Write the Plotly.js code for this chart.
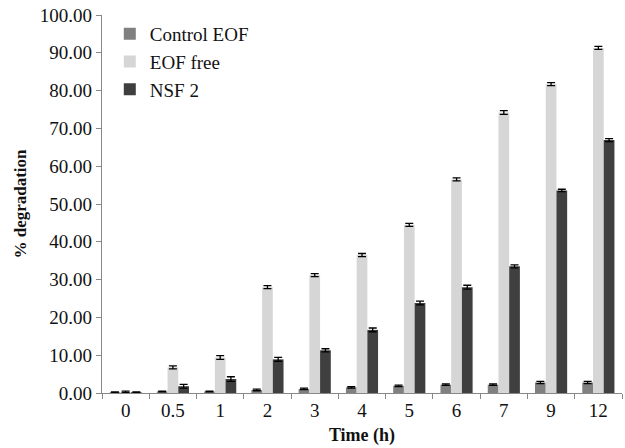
<!DOCTYPE html>
<html>
<head>
<meta charset="utf-8">
<script src="https://cdn.plot.ly/plotly-3.0.1.min.js"></script>
<style>
  html, body { margin: 0; padding: 0; background: #fff; }
  #chart { width: 625px; height: 448px; }
</style>
</head>
<body>
<div id="chart"></div>
<script>
// Sampling times (h)
const times = ['0', '0.5', '1', '2', '3', '4', '5', '6', '7', '9', '12'];

// % degradation per formulation
const controlEOF = [0.2, 0.4, 0.4, 0.8, 1.1, 1.5, 1.9, 2.2, 2.2, 2.8, 2.8];
const eofFree    = [0.3, 6.8, 9.4, 28.0, 31.2, 36.5, 44.5, 56.5, 74.2, 81.7, 91.3];
const nsf2       = [0.2, 1.8, 3.7, 8.9, 11.3, 16.7, 23.8, 28.0, 33.5, 53.6, 66.9];

// Standard deviations
const controlErr = [0.1, 0.1, 0.1, 0.2, 0.2, 0.2, 0.2, 0.2, 0.2, 0.3, 0.3];
const eofFreeErr = [0.2, 0.4, 0.5, 0.4, 0.4, 0.4, 0.4, 0.4, 0.5, 0.4, 0.4];
const nsf2Err    = [0.1, 0.5, 0.6, 0.5, 0.4, 0.5, 0.5, 0.5, 0.4, 0.3, 0.4];

const errStyle = (arr) => ({
  type: 'data', array: arr, visible: true,
  color: '#000', thickness: 1.3, width: 4
});

const traces = [
  { name: 'Control EOF', x: times, y: controlEOF, type: 'bar',
    marker: { color: '#808080' }, error_y: errStyle(controlErr) },
  { name: 'EOF free', x: times, y: eofFree, type: 'bar',
    marker: { color: '#d6d6d6' }, error_y: errStyle(eofFreeErr) },
  { name: 'NSF 2', x: times, y: nsf2, type: 'bar',
    marker: { color: '#3f3f3f' }, error_y: errStyle(nsf2Err) }
];

const serif = "'Liberation Serif', 'Times New Roman', serif";

const layout = {
  width: 625, height: 448,
  margin: { l: 102, r: 3, t: 15, b: 55 },
  paper_bgcolor: '#fff', plot_bgcolor: '#fff',
  barmode: 'group', bargap: 0.32, bargroupgap: 0,
  font: { family: serif, size: 19, color: '#111' },
  showlegend: true,
  legend: {
    x: 0.015, y: 1.0, xanchor: 'left', yanchor: 'top',
    bgcolor: 'rgba(0,0,0,0)', font: { family: serif, size: 19, color: '#111' },
    itemwidth: 30
  },
  xaxis: {
    type: 'category', tickson: 'boundaries',
    showline: true, linecolor: '#888', linewidth: 1.2,
    ticks: 'outside', ticklen: 5, tickcolor: '#888',
    showgrid: false, zeroline: false,
    tickfont: { family: serif, size: 19 },
    title: { text: '<b>Time (h)</b>', font: { family: serif, size: 18 }, standoff: 8 }
  },
  yaxis: {
    range: [0, 100], dtick: 10, tickformat: '.2f',
    showline: true, linecolor: '#888', linewidth: 1.2,
    ticks: 'outside', ticklen: 5, tickcolor: '#888',
    showgrid: false, zeroline: false,
    tickfont: { family: serif, size: 19 },
    title: { text: '<b>% degradation</b>', font: { family: serif, size: 17 }, standoff: 8 }
  }
};

Plotly.newPlot('chart', traces, layout, { displayModeBar: false, staticPlot: true });
</script>
</body>
</html>
